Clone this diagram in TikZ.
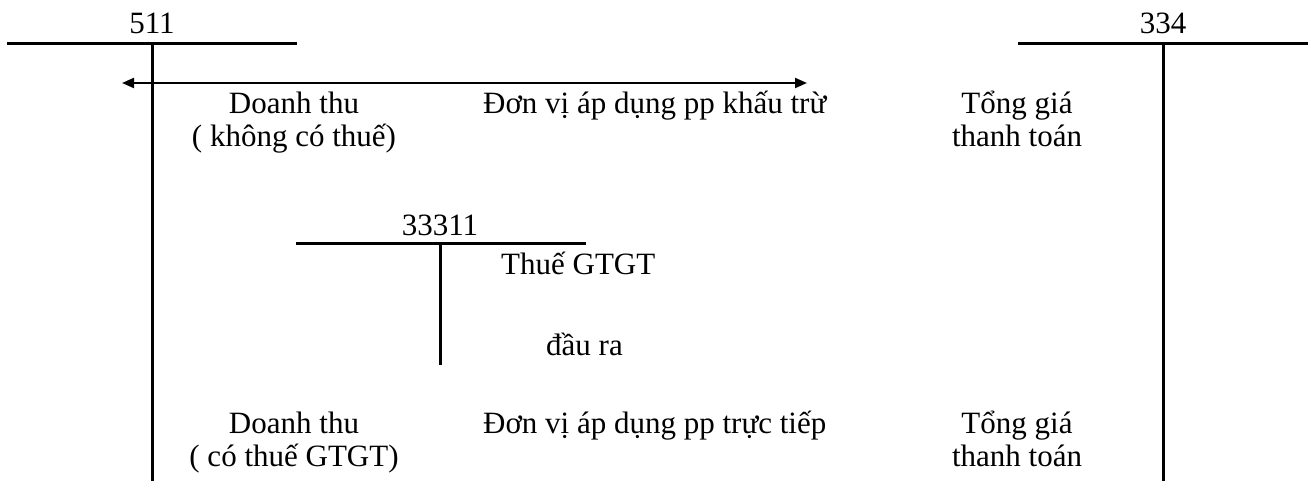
\documentclass[tikz,border=0pt]{standalone}
\usepackage{fontspec}
\setmainfont{Liberation Serif}
\usetikzlibrary{arrows.meta}
\begin{document}
\begin{tikzpicture}[x=1pt,y=-1pt,
  tline/.style={line width=3pt},
  flow/.style={line width=2pt,{Triangle[length=12pt,width=10pt]}-{Triangle[length=12pt,width=10pt]}},
  lbl/.style={inner sep=0pt,anchor=base,font=\fontsize{31}{33}\selectfont},
  lblw/.style={lbl,anchor=base west}]
\useasboundingbox (0,0) rectangle (1315,481);

% T-account 511
\coordinate (a511l) at (7,44);
\coordinate (a511r) at (297,44);
\coordinate (a511t) at (152,44);
\coordinate (a511b) at (152,481);
\draw[tline] (a511l) -- (a511r);
\draw[tline] (a511t) -- (a511b);
\node[lbl] (n511) at (152,34) {511};

% T-account 334
\coordinate (a334l) at (1018,44);
\coordinate (a334r) at (1308,44);
\coordinate (a334t) at (1163,44);
\coordinate (a334b) at (1163,481);
\draw[tline] (a334l) -- (a334r);
\draw[tline] (a334t) -- (a334b);
\node[lbl] (n334) at (1163,34) {334};

% T-account 33311
\coordinate (a333l) at (296,244);
\coordinate (a333r) at (586,244);
\coordinate (a333t) at (440,244);
\coordinate (a333b) at (440,365);
\draw[tline] (a333l) -- (a333r);
\draw[tline] (a333t) -- (a333b);
\node[lbl] (n333) at (440,236) {33311};

% two-way flow arrow
\coordinate (fl) at (122,83);
\coordinate (fr) at (807,83);
\draw[flow] (fl) -- (fr);

% upper row: deduction method
\node[lbl]  (dt1) at (294,114) {Doanh thu};
\node[lbl]  (dt2) at (294,147) {( không có thuế)};
\node[lblw] (kt)  at (483,114) {Đơn vị áp dụng pp khấu trừ};
\node[lbl]  (tg1) at (1017,114) {Tổng giá};
\node[lbl]  (tt1) at (1017,147) {thanh toán};

% output VAT
\node[lblw] (vat1) at (501,275) {Thuế GTGT};
\node[lblw] (vat2) at (546,355) {đầu ra};

% lower row: direct method
\node[lbl]  (dt3) at (294,433) {Doanh thu};
\node[lbl]  (dt4) at (294,466) {( có thuế GTGT)};
\node[lblw] (tt)  at (483,433) {Đơn vị áp dụng pp trực tiếp};
\node[lbl]  (tg2) at (1017,433) {Tổng giá};
\node[lbl]  (tt2) at (1017,466) {thanh toán};
\end{tikzpicture}
\end{document}
